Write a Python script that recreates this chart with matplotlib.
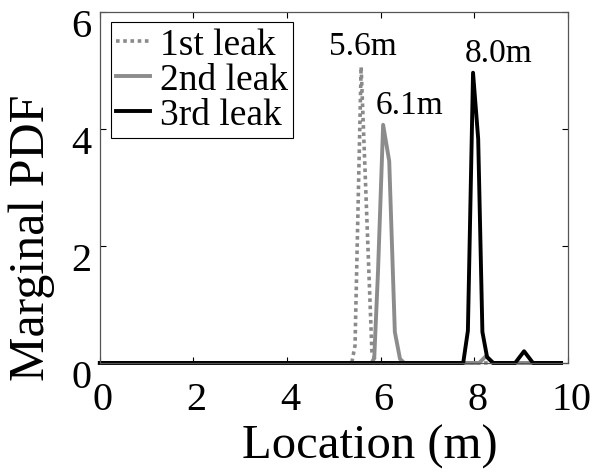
import matplotlib
matplotlib.use("Agg")
import matplotlib.pyplot as plt
import matplotlib.transforms as mtransforms

# Datos (ubicacion en m, PDF marginal)
loc_fuga1 = [0.0, 5.38, 5.45, 5.58, 5.81, 5.9, 9.85]
pdf_fuga1 = [0.0, 0.0, 0.3, 5.06, 0.2, 0.0, 0.0]

loc_fuga2 = [0.0, 5.8, 5.86, 5.94, 6.05, 6.18, 6.30, 6.41, 6.5, 8.1, 8.25, 8.4, 9.85]
pdf_fuga2 = [0.0, 0.0, 0.08, 1.55, 4.07, 3.45, 0.53, 0.07, 0.0, 0.0, 0.12, 0.0, 0.0]

loc_fuga3 = [0.0, 7.76, 7.86, 7.97, 8.08, 8.17, 8.27, 8.4, 8.87, 9.06, 9.25, 9.85]
pdf_fuga3 = [0.0, 0.0, 0.55, 4.96, 3.83, 0.53, 0.1, 0.0, 0.0, 0.2, 0.0, 0.0]

etiquetas = ["1st leak", "2nd leak", "3rd leak"]
picos_texto = ["5.6m", "6.1m", "8.0m"]
picos_x = [5.62, 6.62, 8.52]
picos_y = [5.42, 4.41, 5.3]

plt.rcParams["font.family"] = ["Liberation Serif", "DejaVu Serif"]

fig = plt.figure(figsize=(6.05, 4.77), dpi=100)
ax = fig.add_axes([0.165, 0.237, 0.774, 0.736])

ax.plot(loc_fuga1, pdf_fuga1, linestyle=(0, (1, 1)), color="#8a8a8a", linewidth=2.6,
        label=etiquetas[0], clip_on=False)
ax.plot(loc_fuga2, pdf_fuga2, color="#8c8c8c", linewidth=2.8, label=etiquetas[1], clip_on=False)
ax.plot(loc_fuga3, pdf_fuga3, color="black", linewidth=2.8, label=etiquetas[2], clip_on=False)

# Textos de los picos
for txt, px, py in zip(picos_texto, picos_x, picos_y):
    ax.text(px, py, txt, ha="center", va="center", fontsize=24)

ax.set_xlim(0, 10)
ax.set_ylim(0, 6)
ax.set_xticks([0, 2, 4, 6, 8, 10])
ax.set_yticks([0, 2, 4, 6])
ax.tick_params(direction="in", length=4, width=0.8, labelsize=29, top=True, right=True)
ax.tick_params(axis="x", pad=13)
ax.tick_params(axis="y", pad=6)
for s in ax.spines.values():
    s.set_color("#555555")
    s.set_linewidth(0.9)

# las etiquetas de los ejes estan algo desplazadas en el original
desplaza_y = mtransforms.ScaledTranslation(0, -10 / 100, fig.dpi_scale_trans)
for lab in ax.get_yticklabels():
    lab.set_transform(lab.get_transform() + desplaza_y)
desplaza_x = mtransforms.ScaledTranslation(3 / 100, 0, fig.dpi_scale_trans)
for lab in ax.get_xticklabels():
    lab.set_transform(lab.get_transform() + desplaza_x)

ax.set_xlabel("Location (m)", fontsize=35)
ax.set_ylabel("Marginal PDF", fontsize=36)
ax.xaxis.set_label_coords(0.577, -0.172)
ax.yaxis.set_label_coords(-0.096, 0.36)

ley = ax.legend(loc="upper left", bbox_to_anchor=(0.0235, 0.972), borderaxespad=0,
                fontsize=27, handlelength=0.9, handletextpad=0.25, labelspacing=0.02,
                borderpad=0.15, fancybox=False, framealpha=1)
ley.get_frame().set_edgecolor("black")
ley.get_frame().set_linewidth(0.8)

fig.savefig("out.png", dpi=100)
